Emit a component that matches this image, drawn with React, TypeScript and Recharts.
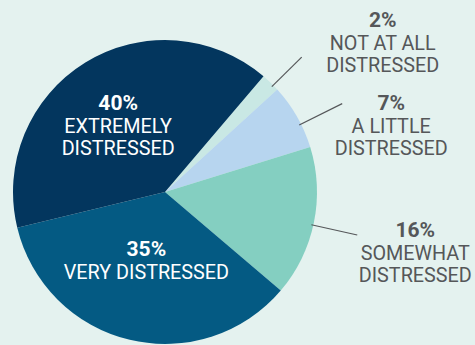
import { PieChart, Pie, Cell } from 'recharts'

if (typeof document !== 'undefined') document.body.style.margin = '0'

const categories = ['NOT AT ALL|DISTRESSED', 'A LITTLE|DISTRESSED', 'SOMEWHAT|DISTRESSED', 'VERY DISTRESSED', 'EXTREMELY|DISTRESSED']
const shares = [2, 7, 16, 35, 40]
const colors = ['#c9e8e4', '#b7d5ef', '#84cfc1', '#045a83', '#03365e']

// label layout: outside labels get a leader line (turn = degrees off the mid angle, ext = length past the rim)
const LABELS = [
  { outside: true, turn: -1.4, ext: 40, dx: 81, dy: -30 },
  { outside: true, turn: -3.3, ext: 46, dx: 49, dy: 6 },
  { outside: true, turn: -1, ext: 45, dx: 58, dy: 2 },
  { outside: false, turn: 0, ext: 0, dx: -1, dy: -10 },
  { outside: false, turn: 0, ext: 0, dx: -7, dy: -17 },
]

const data = categories.map((name, i) => ({ name, value: shares[i] }))

const RAD = Math.PI / 180
const FONT = 'Roboto, sans-serif'

function LabelText({ x, y, value, lines, fill }: { x: number; y: number; value: number; lines: string[]; fill: string }) {
  return (
    <text x={x} y={y} textAnchor="middle" fill={fill} fontFamily={FONT}>
      <tspan x={x} dy={0} fontSize={21} fontWeight={700}>{value}%</tspan>
      {lines.map((l, i) => (
        <tspan key={i} x={x} dy={i === 0 ? 23 : 22} fontSize={19.8}>{l}</tspan>
      ))}
    </text>
  )
}

function renderLabel(props: any) {
  const { cx, cy, midAngle, outerRadius, index, value, name } = props
  const lines = String(name).split('|')
  const cfg = LABELS[index]

  if (!cfg.outside) {
    const r = outerRadius * 0.5
    const x = cx + r * Math.cos(-midAngle * RAD) + cfg.dx
    const y = cy + r * Math.sin(-midAngle * RAD) + cfg.dy
    return <LabelText x={x} y={y} value={value} lines={lines} fill="#ffffff" />
  }

  const a = -(midAngle + cfg.turn) * RAD
  const sx = cx + (outerRadius - 2) * Math.cos(a)
  const sy = cy + (outerRadius - 2) * Math.sin(a)
  const ex = cx + (outerRadius + cfg.ext) * Math.cos(a)
  const ey = cy + (outerRadius + cfg.ext) * Math.sin(a)
  return (
    <g>
      <line x1={sx} y1={sy} x2={ex} y2={ey} stroke="#555759" strokeWidth={1.2} />
      <LabelText x={ex + cfg.dx} y={ey + cfg.dy} value={value} lines={lines} fill="#555759" />
    </g>
  )
}

export default function App() {
  return (
    <div style={{ width: 475, height: 345, background: '#e4f2ef' }}>
      <PieChart width={475} height={345} margin={{ top: 0, right: 0, bottom: 0, left: 0 }}>
        <Pie
          data={data}
          dataKey="value"
          nameKey="name"
          cx={165}
          cy={192}
          outerRadius={152}
          startAngle={49.6}
          endAngle={-310.4}
          stroke="none"
          label={renderLabel}
          labelLine={false}
          isAnimationActive={false}
        >
          {data.map((d, i) => (
            <Cell key={d.name} fill={colors[i]} />
          ))}
        </Pie>
      </PieChart>
    </div>
  )
}
